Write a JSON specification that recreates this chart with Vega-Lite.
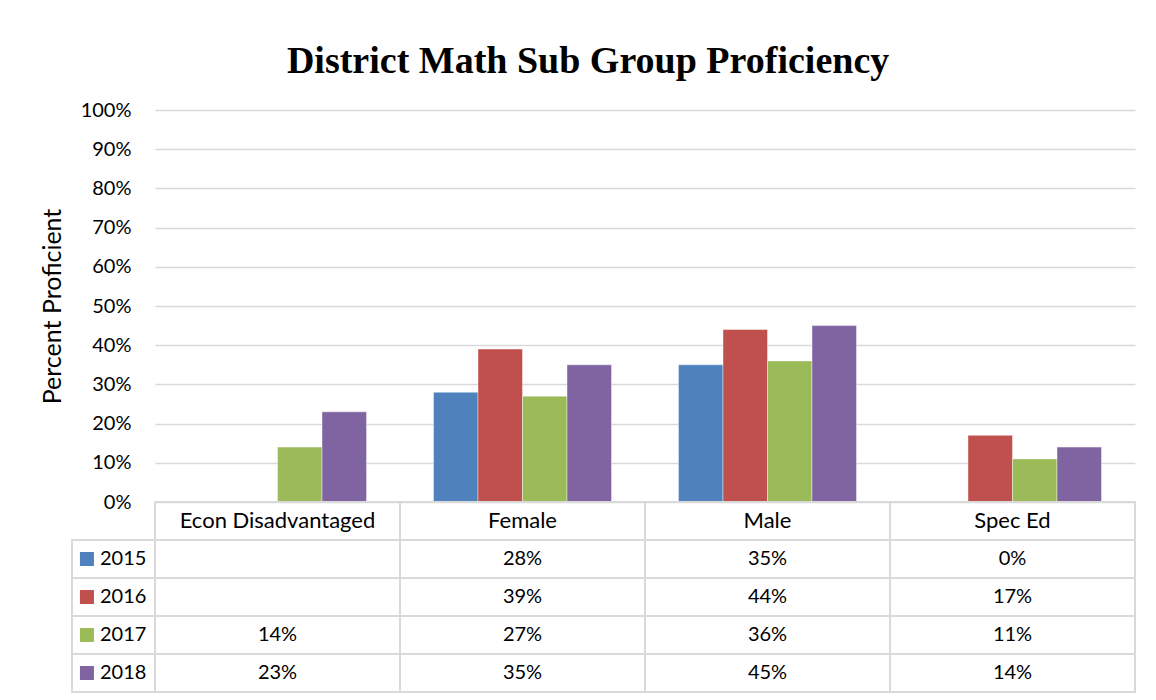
{
  "$schema": "https://vega.github.io/schema/vega-lite/v6.json",
  "width": 980,
  "height": 582,
  "padding": {"left": 40, "top": 43, "right": 21, "bottom": 5},
  "background": "white",
  "title": {
    "text": "District Math Sub Group Proficiency",
    "font": "Liberation Serif",
    "fontSize": 38,
    "fontWeight": "bold",
    "color": "black",
    "anchor": "middle",
    "frame": "bounds",
    "offset": 19
  },
  "datasets": {
    "scores": [
      {"group": "Econ Disadvantaged", "year": "2015", "value": null},
      {"group": "Econ Disadvantaged", "year": "2016", "value": null},
      {"group": "Econ Disadvantaged", "year": "2017", "value": 0.14},
      {"group": "Econ Disadvantaged", "year": "2018", "value": 0.23},
      {"group": "Female", "year": "2015", "value": 0.28},
      {"group": "Female", "year": "2016", "value": 0.39},
      {"group": "Female", "year": "2017", "value": 0.27},
      {"group": "Female", "year": "2018", "value": 0.35},
      {"group": "Male", "year": "2015", "value": 0.35},
      {"group": "Male", "year": "2016", "value": 0.44},
      {"group": "Male", "year": "2017", "value": 0.36},
      {"group": "Male", "year": "2018", "value": 0.45},
      {"group": "Spec Ed", "year": "2015", "value": 0},
      {"group": "Spec Ed", "year": "2016", "value": 0.17},
      {"group": "Spec Ed", "year": "2017", "value": 0.11},
      {"group": "Spec Ed", "year": "2018", "value": 0.14}
    ]
  },
  "data": {"name": "scores"},
  "config": {"view": {"stroke": null}, "font": "Lato"},
  "resolve": {"scale": {"x": "independent", "y": "independent"}},
  "layer": [
    {
      "transform": [{"filter": "datum.value != null"}],
      "mark": {"type": "bar", "stroke": "white", "strokeWidth": 0.6, "strokeOpacity": 0.7},
      "encoding": {
        "x": {"field": "group", "type": "nominal", "axis": null,
          "scale": {"domain": ["Econ Disadvantaged", "Female", "Male", "Spec Ed"], "paddingInner": 0.2733, "paddingOuter": 0.1367}},
        "xOffset": {"field": "year", "type": "nominal",
          "scale": {"domain": ["2015", "2016", "2017", "2018"], "paddingInner": 0, "paddingOuter": 0}},
        "y": {"field": "value", "type": "quantitative",
          "scale": {"domain": [0, 1], "range": [392, 0], "nice": false},
          "axis": {
            "values": [0, 0.1, 0.2, 0.3, 0.4, 0.5, 0.6, 0.7, 0.8, 0.9, 1],
            "format": ".0%", "grid": true, "gridColor": "#D9D9D9", "gridWidth": 1.5,
            "domain": false, "ticks": false,
            "labelFont": "Lato", "labelFontSize": 20, "labelColor": "black", "labelPadding": 24,
            "title": "Percent Proficient", "titleFont": "Lato", "titleFontSize": 25,
            "titleFontWeight": "normal", "titleColor": "black", "titlePadding": 15
          }},
        "color": {"field": "year", "type": "nominal", "legend": null,
          "scale": {"domain": ["2015", "2016", "2017", "2018"], "range": ["#4F81BD", "#C0504D", "#9BBB59", "#8064A2"]}}
      }
    },
    {
      "mark": {"type": "rect", "fill": "white", "fillOpacity": 0, "stroke": "#D9D9D9", "strokeWidth": 2},
      "encoding": {
        "x": {"field": "group", "type": "nominal", "axis": null,
          "scale": {"domain": ["Econ Disadvantaged", "Female", "Male", "Spec Ed"], "paddingInner": 0, "paddingOuter": 0}},
        "y": {"field": "year", "type": "nominal", "axis": null,
          "scale": {"domain": ["hdr", "2015", "2016", "2017", "2018"], "range": [392, 582], "paddingInner": 0, "paddingOuter": 0}}
      }
    },
    {
      "transform": [{"filter": "datum.value != null"}],
      "mark": {"type": "text", "font": "Lato", "fontSize": 20, "color": "black", "baseline": "middle", "align": "center"},
      "encoding": {
        "x": {"field": "group", "type": "nominal", "axis": null,
          "scale": {"domain": ["Econ Disadvantaged", "Female", "Male", "Spec Ed"], "paddingInner": 0, "paddingOuter": 0}},
        "y": {"field": "year", "type": "nominal", "axis": null,
          "scale": {"domain": ["hdr", "2015", "2016", "2017", "2018"], "range": [392, 582], "paddingInner": 0, "paddingOuter": 0}},
        "text": {"field": "value", "type": "quantitative", "format": ".0%"}
      }
    },
    {
      "transform": [{"aggregate": [{"op": "count", "as": "n"}], "groupby": ["group"]}],
      "mark": {"type": "rect", "fill": "white", "fillOpacity": 0, "stroke": "#D9D9D9", "strokeWidth": 2},
      "encoding": {
        "x": {"field": "group", "type": "nominal", "axis": null,
          "scale": {"domain": ["Econ Disadvantaged", "Female", "Male", "Spec Ed"], "paddingInner": 0, "paddingOuter": 0}},
        "y": {"datum": "hdr", "type": "nominal", "axis": null,
          "scale": {"domain": ["hdr", "2015", "2016", "2017", "2018"], "range": [392, 582], "paddingInner": 0, "paddingOuter": 0}}
      }
    },
    {
      "transform": [{"aggregate": [{"op": "count", "as": "n"}], "groupby": ["group"]}],
      "mark": {"type": "text", "font": "Lato", "fontSize": 22, "color": "black", "baseline": "middle", "align": "center"},
      "encoding": {
        "x": {"field": "group", "type": "nominal", "axis": null,
          "scale": {"domain": ["Econ Disadvantaged", "Female", "Male", "Spec Ed"], "paddingInner": 0, "paddingOuter": 0}},
        "y": {"datum": "hdr", "type": "nominal", "axis": null,
          "scale": {"domain": ["hdr", "2015", "2016", "2017", "2018"], "range": [392, 582], "paddingInner": 0, "paddingOuter": 0}},
        "text": {"field": "group", "type": "nominal"}
      }
    },
    {
      "transform": [{"aggregate": [{"op": "count", "as": "n"}], "groupby": ["year"]}],
      "mark": {"type": "rect", "fill": "white", "fillOpacity": 0, "stroke": "#D9D9D9", "strokeWidth": 2},
      "encoding": {
        "x": {"datum": "legend", "type": "nominal", "axis": null,
          "scale": {"domain": ["legend"], "range": [-83, 0], "paddingInner": 0, "paddingOuter": 0}},
        "y": {"field": "year", "type": "nominal", "axis": null,
          "scale": {"domain": ["hdr", "2015", "2016", "2017", "2018"], "range": [392, 582], "paddingInner": 0, "paddingOuter": 0}}
      }
    },
    {
      "transform": [{"aggregate": [{"op": "count", "as": "n"}], "groupby": ["year"]}],
      "mark": {"type": "point", "shape": "square", "filled": true, "size": 196, "opacity": 1},
      "encoding": {
        "x": {"datum": "legend", "type": "nominal", "axis": null,
          "scale": {"type": "point", "domain": ["legend"], "range": [-83, 0], "align": 0.18}},
        "y": {"field": "year", "type": "nominal", "axis": null,
          "scale": {"domain": ["hdr", "2015", "2016", "2017", "2018"], "range": [392, 582], "paddingInner": 0, "paddingOuter": 0}},
        "color": {"field": "year", "type": "nominal", "legend": null,
          "scale": {"domain": ["2015", "2016", "2017", "2018"], "range": ["#4F81BD", "#C0504D", "#9BBB59", "#8064A2"]}}
      }
    },
    {
      "transform": [{"aggregate": [{"op": "count", "as": "n"}], "groupby": ["year"]}],
      "mark": {"type": "text", "font": "Lato", "fontSize": 20, "color": "black", "baseline": "middle", "align": "left"},
      "encoding": {
        "x": {"datum": "legend", "type": "nominal", "axis": null,
          "scale": {"type": "point", "domain": ["legend"], "range": [-83, 0], "align": 0.337}},
        "y": {"field": "year", "type": "nominal", "axis": null,
          "scale": {"domain": ["hdr", "2015", "2016", "2017", "2018"], "range": [392, 582], "paddingInner": 0, "paddingOuter": 0}},
        "text": {"field": "year", "type": "nominal"}
      }
    }
  ]
}
